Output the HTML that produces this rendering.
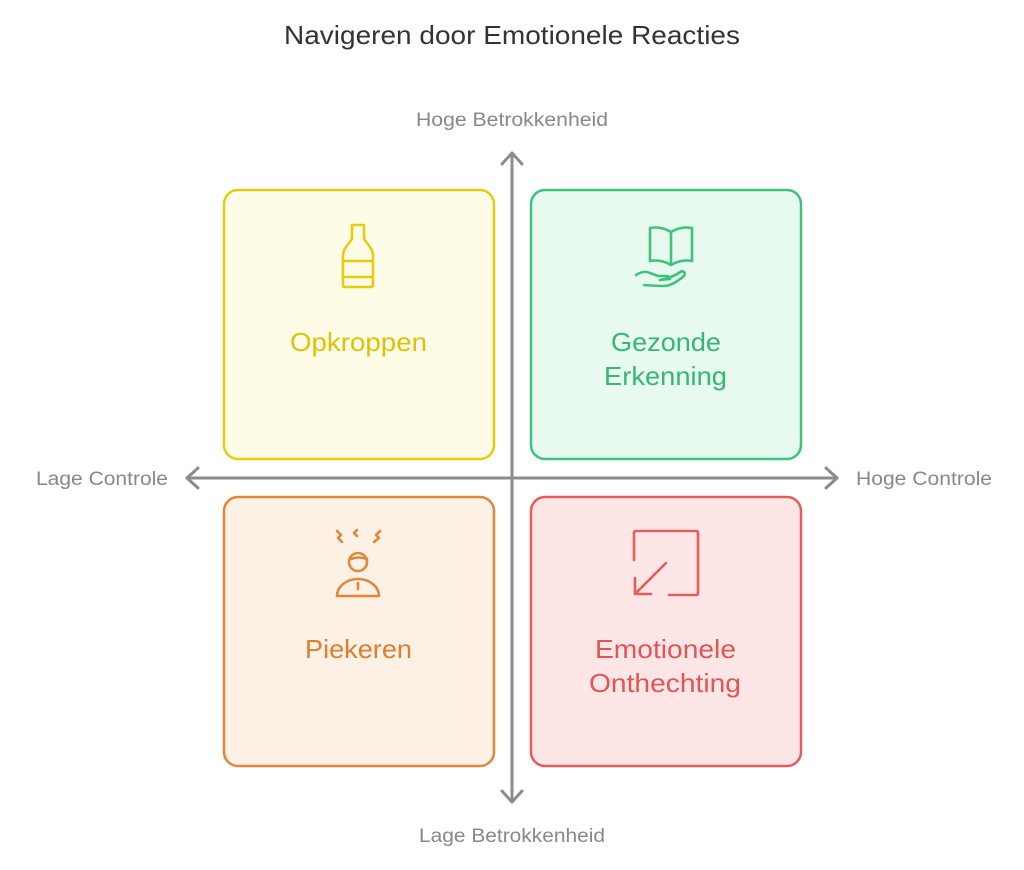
<!DOCTYPE html>
<html><head><meta charset="utf-8"><style>body{margin:0;background:#fff}svg{display:block}text{font-family:"Liberation Sans",sans-serif}</style></head><body>
<svg width="1024" height="870" viewBox="0 0 1024 870" xmlns="http://www.w3.org/2000/svg">
<text x="284" y="44" font-size="26" fill="#333" textLength="456" lengthAdjust="spacingAndGlyphs">Navigeren door Emotionele Reacties</text>
<text x="416" y="126" font-size="19" fill="#888" textLength="192" lengthAdjust="spacingAndGlyphs">Hoge Betrokkenheid</text>
<text x="419" y="842" font-size="19" fill="#888" textLength="186" lengthAdjust="spacingAndGlyphs">Lage Betrokkenheid</text>
<text x="36" y="485" font-size="19" fill="#888" textLength="132" lengthAdjust="spacingAndGlyphs">Lage Controle</text>
<text x="856" y="485" font-size="19" fill="#888" textLength="136" lengthAdjust="spacingAndGlyphs">Hoge Controle</text>
<rect x="224" y="190" width="270" height="269" rx="14" fill="#fefce6" stroke="#e5cc10" stroke-width="2.5"/>
<rect x="531" y="190" width="270" height="269" rx="14" fill="#e8f9ef" stroke="#3cc47c" stroke-width="2.5"/>
<rect x="224" y="497" width="270" height="269" rx="14" fill="#fdf0e4" stroke="#e0873a" stroke-width="2.5"/>
<rect x="531" y="497" width="270" height="269" rx="14" fill="#fee6e6" stroke="#e55c5c" stroke-width="2.5"/>
<g stroke="#8c8c8c" stroke-width="3" fill="none" stroke-linecap="round" stroke-linejoin="round">
<line x1="512" y1="154" x2="512" y2="801"/><polyline points="502,164 512,153 522,164"/><polyline points="502,791 512,802 522,791"/>
<line x1="187" y1="478" x2="837" y2="478"/><polyline points="198,468 187,478 198,488"/><polyline points="826,468 837,478 826,488"/>
</g>
<g font-size="26" lengthAdjust="spacingAndGlyphs">
<text x="290" y="351" fill="#dcc20a" textLength="137" lengthAdjust="spacingAndGlyphs">Opkroppen</text>
<text x="611" y="351" fill="#35b872" textLength="110" lengthAdjust="spacingAndGlyphs">Gezonde</text>
<text x="604" y="385" fill="#35b872" textLength="123" lengthAdjust="spacingAndGlyphs">Erkenning</text>
<text x="305" y="658" fill="#de7f2f" textLength="107" lengthAdjust="spacingAndGlyphs">Piekeren</text>
<text x="595" y="658" fill="#e05555" textLength="141" lengthAdjust="spacingAndGlyphs">Emotionele</text>
<text x="589" y="692" fill="#e05555" textLength="152" lengthAdjust="spacingAndGlyphs">Onthechting</text>
</g>
<g fill="none" stroke-width="2.6" stroke-linecap="round" stroke-linejoin="round">
<path stroke="#e5cc10" d="M352,225 h12 v14 l6,8 q3,4 3,9 v29 q0,2 -2,2 h-26 q-2,0 -2,-2 v-29 q0,-5 3,-9 l6,-8 z M344,261 h29 M344,277 h29"/>
<path stroke="#3cc47c" d="M671,232 q-10,-6 -21,-4 v33 q11,-2 21,4 q10,-6 21,-4 v-33 q-11,-2 -21,4 v33 M636,275 q8,-5 14,-2 l8,3 h8 q4,0 4,3 l-10,1 M660,280 q12,-2 22,-9 q4,1 2,5 q-12,10 -20,10 q-10,0 -20,-1"/>
<circle cx="358" cy="562" r="9" stroke="#e0873a"/>
<path stroke="#e0873a" d="M351,559 q8,-3 16,0 M337,596 a21,17 0 0 1 42,0 z M358,583 v6 M337,531 l4,4 l-3,3 l4,4 M357,530 l-3,3 l3,3 M380,531 l-4,4 l3,3 l-5,4"/>
<path stroke="#e55c5c" d="M634,560 v-27 q0,-2 2,-2 h60 q2,0 2,2 v60 q0,2 -2,2 h-27 M666,563 l-31,31 M635,578 v16 h16"/>
</g>
</svg>
</body></html>
